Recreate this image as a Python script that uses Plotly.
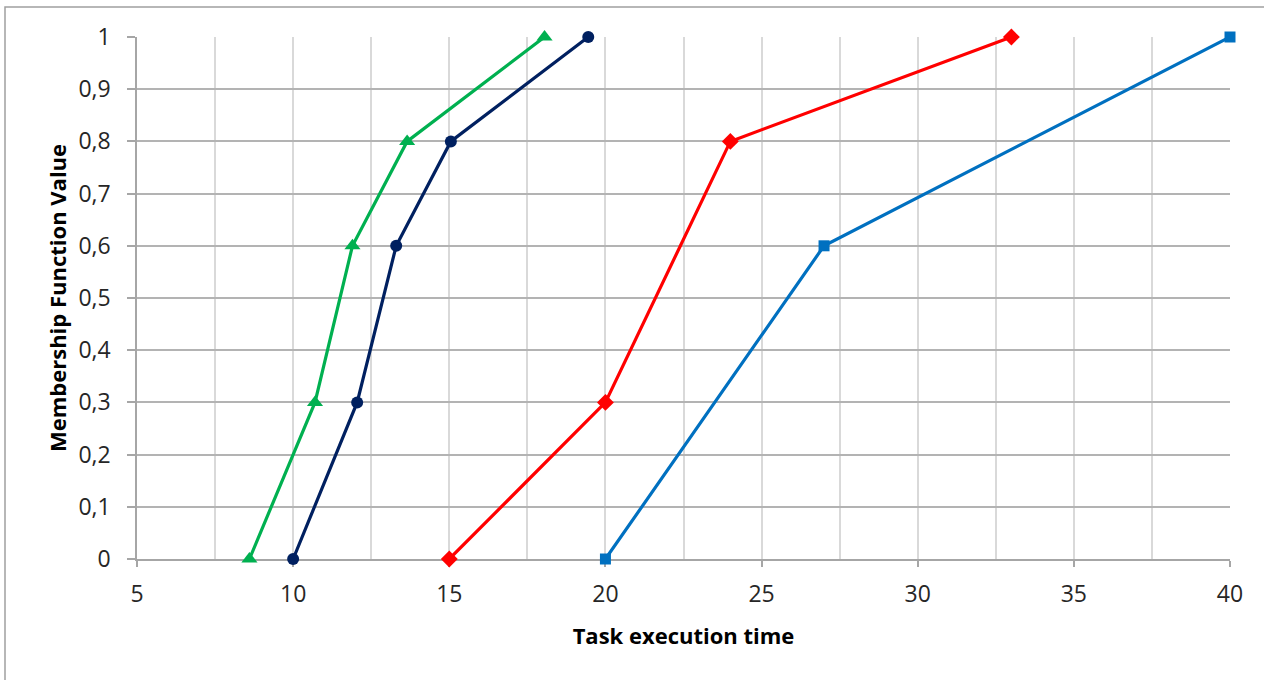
import plotly.graph_objects as go

green_x = [8.6, 10.7, 11.9, 13.65, 18.05]
green_y = [0, 0.3, 0.6, 0.8, 1]
navy_x = [10, 12.05, 13.3, 15.05, 19.45]
navy_y = [0, 0.3, 0.6, 0.8, 1]
red_x = [15, 20, 24, 33]
red_y = [0, 0.3, 0.8, 1]
blue_x = [20, 27, 40]
blue_y = [0, 0.6, 1]

FONT = "Open Sans"
fig = go.Figure()

series = [
    (green_x, green_y, "#00B050", "triangle-up", 14),
    (navy_x, navy_y, "#002060", "circle", 12),
    (red_x, red_y, "#FF0000", "diamond", 13),
    (blue_x, blue_y, "#0070C0", "square", 11),
]
for xs, ys, col, sym, sz in series:
    fig.add_trace(go.Scatter(
        x=xs, y=ys, mode="lines+markers",
        line=dict(color=col, width=3.2),
        marker=dict(color=col, symbol=sym, size=sz),
        cliponaxis=False, showlegend=False,
    ))

fig.update_layout(
    width=1264, height=680,
    margin=dict(l=137, r=34, t=37, b=121),
    paper_bgcolor="white", plot_bgcolor="white",
    separators=", ",
    font=dict(family=FONT, color="#262626"),
    xaxis=dict(
        range=[5, 40], dtick=5, tick0=5,
        showgrid=True, gridcolor="#d9d9d9", gridwidth=1.5,
        minor=dict(dtick=2.5, showgrid=True, gridcolor="#d9d9d9", gridwidth=1.5, ticks=""),
        showline=True, linecolor="#a6a6a6", linewidth=1.5,
        ticks="outside", ticklen=6, tickcolor="#a6a6a6", tickwidth=1.5,
        tickfont=dict(size=23, family=FONT, color="#262626"),
        ticklabelstandoff=8,
        zeroline=False, layer="below traces",
        title=dict(text="<b>Task execution time</b>", font=dict(size=22, family=FONT, color="#000"), standoff=20),
    ),
    yaxis=dict(
        range=[0, 1], dtick=0.1, tick0=0,
        showgrid=True, gridcolor="#b3b3b3", gridwidth=1.5,
        showline=True, linecolor="#a6a6a6", linewidth=1.5,
        ticks="outside", ticklen=8, tickcolor="#a6a6a6", tickwidth=1.5,
        tickfont=dict(size=23, family=FONT, color="#262626"),
        ticklabelstandoff=12,
        zeroline=False, layer="below traces",
        title=dict(text="<b>Membership Function Value</b>", font=dict(size=22, family=FONT, color="#000"), standoff=6),
    ),
    shapes=[dict(
        type="rect", xref="paper", yref="paper",
        x0=(5 - 137) / 1093, x1=(1275 - 137) / 1093,
        y0=(559 - 700) / 522, y1=(559 - 7) / 522,
        line=dict(color="#a0a0a0", width=1.5), fillcolor="rgba(0,0,0,0)", layer="below",
    )],
)

fig.write_html("out.html")
